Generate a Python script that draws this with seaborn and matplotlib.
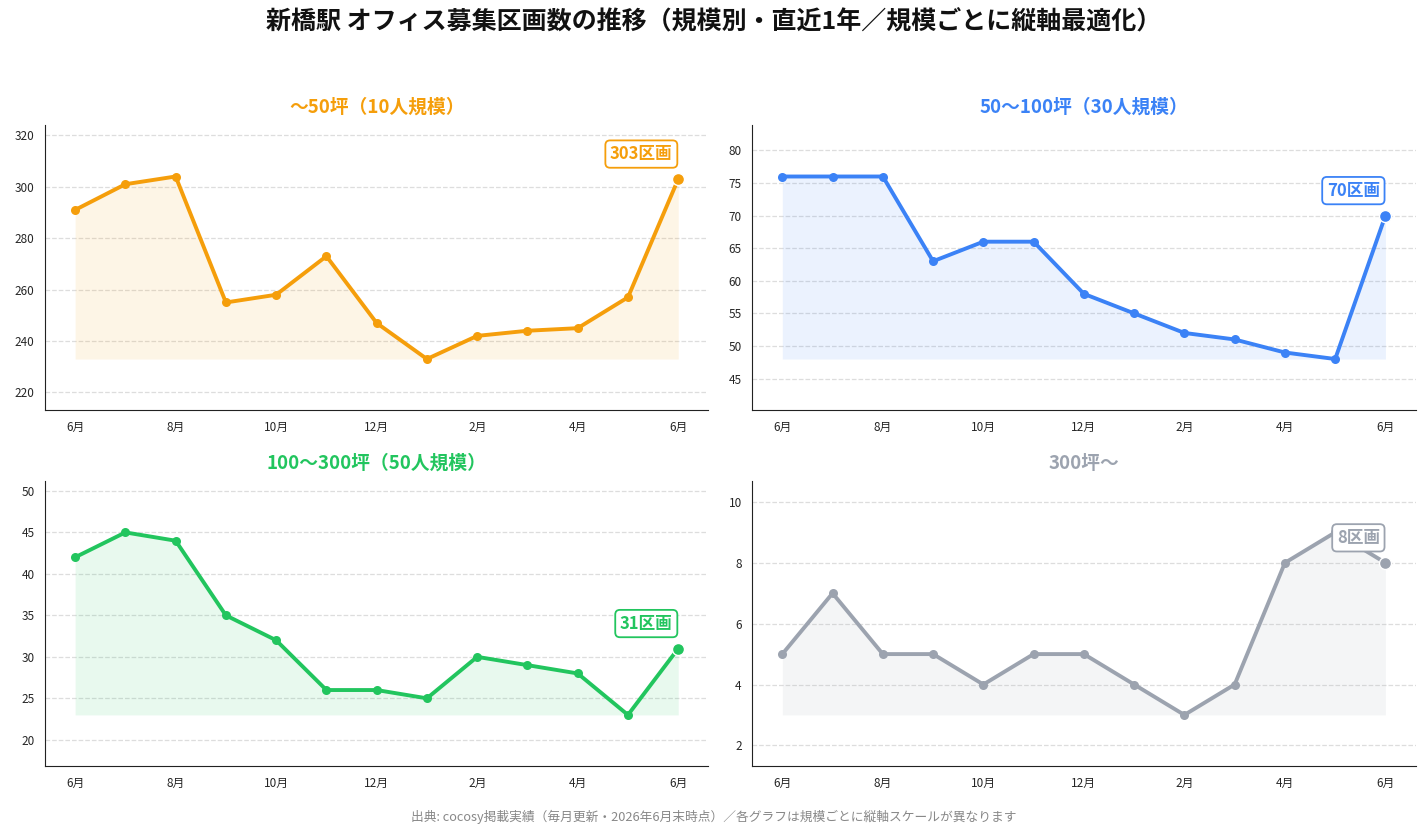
import seaborn as sns
import pandas as pd
import matplotlib.pyplot as plt

# Data
months = ['6月', '7月', '8月', '9月', '10月', '11月', '12月', '1月', '2月', '3月', '4月', '5月', '6月']
tick_labels = ['6月', '8月', '10月', '12月', '2月', '4月', '6月']

small = [291, 301, 304, 255, 258, 273, 247, 233, 242, 244, 245, 257, 303]
mid = [76, 76, 76, 63, 66, 66, 58, 55, 52, 51, 49, 48, 70]
large = [42, 45, 44, 35, 32, 26, 26, 25, 30, 29, 28, 23, 31]
xlarge = [5, 7, 5, 5, 4, 5, 5, 4, 3, 4, 8, 9, 8]

titles = ['～50坪（10人規模）', '50～100坪（30人規模）', '100～300坪（50人規模）', '300坪～']
colors = ['#F59E0B', '#3B82F6', '#22C55E', '#9CA3AF']
series = [small, mid, large, xlarge]

sns.set_style('white')
plt.rcParams['font.family'] = ['Noto Sans CJK JP', 'DejaVu Sans']

fig, axes = plt.subplots(2, 2, figsize=(14.27, 8.36), dpi=100)
fig.subplots_adjust(left=0.0315, right=0.992, top=0.850, bottom=0.0837,
                    hspace=0.25, wspace=0.066)

for ax, vals, title, color in zip(axes.flat, series, titles, colors):
    df = pd.DataFrame({'idx': range(len(vals)), 'value': vals})
    sns.lineplot(data=df, x='idx', y='value', ax=ax, color=color, linewidth=2.8,
                 marker='o', markersize=6.5, markeredgewidth=0)
    base = min(vals)
    ax.fill_between(df['idx'], df['value'], base, color=color, alpha=0.1, linewidth=0)

    # highlight latest month
    last = len(vals) - 1
    ax.scatter([last], [vals[-1]], s=75, color=color, zorder=5,
               edgecolors='white', linewidths=1)
    ax.annotate(f'{vals[-1]}区画', xy=(last, vals[-1]), xytext=(-4, 18),
                textcoords='offset points', ha='right', va='center',
                fontsize=12, fontweight='bold', color=color, zorder=6,
                bbox=dict(boxstyle='round,pad=0.28', fc='white', ec=color, lw=1.3))

    rng = max(vals) - min(vals)
    ax.set_ylim(min(vals) - 0.28 * rng, max(vals) + 0.28 * rng)
    ax.set_xlim(-0.6, 12.6)
    ax.set_xticks(range(0, 13, 2))
    ax.set_xticklabels(tick_labels)
    ax.tick_params(axis='both', labelsize=8.5, length=4, color='#333333')
    ax.set_xlabel('')
    ax.set_ylabel('')
    ax.set_title(title, color=color, fontsize=13.5, fontweight='bold', pad=9)
    ax.yaxis.grid(True, linestyle='--', color='#dddddd', linewidth=0.9)
    ax.set_axisbelow(True)
    sns.despine(ax=ax)
    for s in ['left', 'bottom']:
        ax.spines[s].set_color('#222222')

fig.suptitle('新橋駅 オフィス募集区画数の推移（規模別・直近1年／規模ごとに縦軸最適化）',
             fontsize=18, fontweight='bold', color='#111111', y=0.988)
fig.text(0.5, 0.023, '出典: cocosy掲載実績（毎月更新・2026年6月末時点）／各グラフは規模ごとに縦軸スケールが異なります',
         ha='center', va='center', fontsize=9.2, color='#888888')

plt.savefig('out.png', dpi=100)
